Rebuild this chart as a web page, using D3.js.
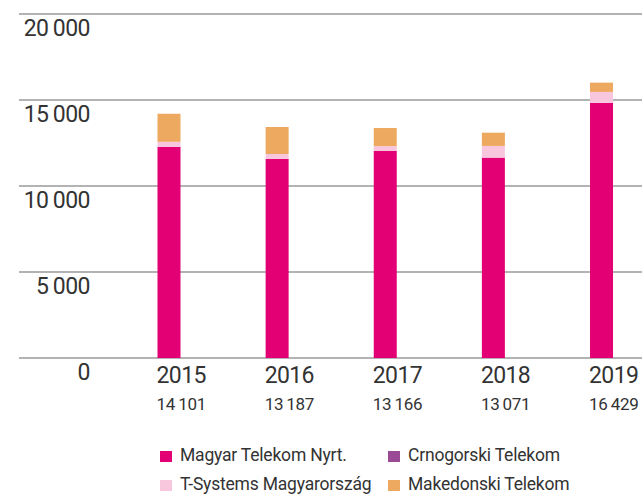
<!DOCTYPE html>
<html>
<head>
<meta charset="utf-8">
<script src="https://cdn.jsdelivr.net/npm/d3@7"></script>
<style>
  html, body { margin: 0; padding: 0; background: #fff; }
  svg text { font-family: Roboto, "Liberation Sans", sans-serif; fill: #333; }
</style>
</head>
<body>
<div id="chart"></div>
<script>
/* chart data */
const years = ["2015", "2016", "2017", "2018", "2019"];
const totals = [14101, 13187, 13166, 13071, 16429];
const magyarTelekom = [12280, 11570, 12050, 11650, 14830];
const crnogorski = [0, 0, 0, 0, 0];
const tSystems = [290, 290, 270, 680, 640];
const makedonski = [1630, 1570, 1050, 770, 540];
const yTicks = [0, 5000, 10000, 15000, 20000];

const seriesNames = ["Magyar Telekom Nyrt.", "Crnogorski Telekom", "T-Systems Magyarország", "Makedonski Telekom"];
const seriesColors = ["#e20074", "#9b4a96", "#f8c6dd", "#eda95f"];

const width = 642, height = 497;

const svg = d3.select("#chart").append("svg")
	.attr("width", width)
	.attr("height", height);

/* build a row per year for the stack */
const rows = years.map((y, i) => ({
	year: y,
	s0: magyarTelekom[i],
	s1: crnogorski[i],
	s2: tSystems[i],
	s3: makedonski[i]
}));

const stack = d3.stack().keys(["s0", "s1", "s2", "s3"]);
const layers = stack(rows);

const x = d3.scalePoint().domain(years).range([169, 601.5]);
const barWidth = 23;
const y = d3.scaleLinear().domain([0, 20000]).range([358, 14]);

const fmt = d3.formatLocale({ decimal: ",", thousands: "\u2009", grouping: [3], currency: ["", ""] }).format(",d");

/* gridlines + y labels */
const grid = svg.append("g").attr("class", "grid");
grid.selectAll("line")
	.data(yTicks)
	.join("line")
	.attr("x1", 19)
	.attr("x2", width)
	.attr("y1", d => y(d))
	.attr("y2", d => y(d))
	.attr("stroke", "#9a9a9a")
	.attr("stroke-width", 1.3);

grid.selectAll("text")
	.data(yTicks)
	.join("text")
	.attr("x", 90)
	.attr("y", d => y(d) + 22)
	.attr("text-anchor", "end")
	.style("font-size", "23px")
	.style("letter-spacing", "-0.5px")
	.text(d => fmt(d));

/* bars */
const bars = svg.append("g").attr("class", "bars");
bars.selectAll("g")
	.data(layers)
	.join("g")
	.attr("fill", (d, i) => seriesColors[i])
	.selectAll("rect")
	.data(d => d)
	.join("rect")
	.attr("x", d => x(d.data.year) - barWidth / 2)
	.attr("width", barWidth)
	.attr("y", d => y(d[1]))
	.attr("height", d => Math.max(0, y(d[0]) - y(d[1])));

/* year + total labels */
const labels = svg.append("g").attr("class", "labels");
labels.selectAll("text.year")
	.data(years)
	.join("text")
	.attr("class", "year")
	.attr("x", d => x(d) - barWidth / 2 - 1)
	.attr("y", 383)
	.style("font-size", "23px")
	.style("letter-spacing", "-0.6px")
	.text(d => d);

labels.selectAll("text.total")
	.data(totals)
	.join("text")
	.attr("class", "total")
	.attr("x", (d, i) => x(years[i]) - barWidth / 2 - 1)
	.attr("y", 410)
	.style("font-size", "17px")
	.style("letter-spacing", "-0.3px")
	.text(d => fmt(d));

/* legend */
const legendPos = [[160, 451], [388, 451], [160, 480], [388, 480]];
const legend = svg.append("g").attr("class", "legend");
const item = legend.selectAll("g")
	.data(seriesNames)
	.join("g")
	.attr("transform", (d, i) => `translate(${legendPos[i][0]},${legendPos[i][1]})`);

item.append("rect")
	.attr("width", 12)
	.attr("height", 11)
	.attr("fill", (d, i) => seriesColors[i]);

item.append("text")
	.attr("x", 20)
	.attr("y", 10)
	.style("font-size", "17.5px")
	.style("letter-spacing", "-0.2px")
	.text(d => d);
</script>
</body>
</html>
